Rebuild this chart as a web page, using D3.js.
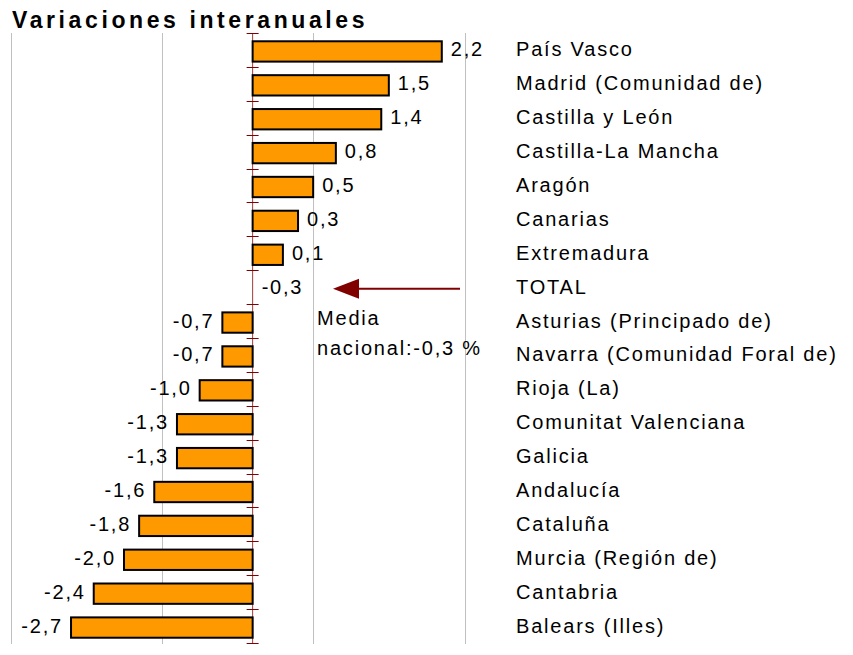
<!DOCTYPE html>
<html>
<head>
<meta charset="utf-8">
<script src="https://cdn.jsdelivr.net/npm/d3@7"></script>
<style>
  body { margin: 0; background: #fff; }
  svg text { font-family: Arial, "Liberation Sans", Helvetica, sans-serif; fill: #000; }
</style>
</head>
<body>
<script>
var w = 853;
var h = 655;

// Datos //
var regiones = [
  "País Vasco", "Madrid (Comunidad de)", "Castilla y León", "Castilla-La Mancha",
  "Aragón", "Canarias", "Extremadura", "TOTAL", "Asturias (Principado de)",
  "Navarra (Comunidad Foral de)", "Rioja (La)", "Comunitat Valenciana", "Galicia",
  "Andalucía", "Cataluña", "Murcia (Región de)", "Cantabria", "Balears (Illes)"
];
var variaciones = [2.2, 1.5, 1.4, 0.8, 0.5, 0.3, 0.1, -0.3, -0.7, -0.7, -1.0, -1.3, -1.3, -1.6, -1.8, -2.0, -2.4, -2.7];
var media = -0.3;
var rejilla = [-3.5, -1.5, 0.5, 2.5];

var dataset = regiones.map(function(r, i) { return { region: r, valor: variaciones[i] }; });

var fmt = d3.formatLocale({ decimal: ",", thousands: ".", grouping: [3], currency: ["", "€"], minus: "-" }).format(".1f");

// Escalas //
var xScale = d3.scaleLinear()
    .domain([-3.5, 2.5])
    .range([10.5, 464.5]);

var yScale = d3.scaleBand()
    .domain(regiones)
    .range([33.5, 643.5])
    .paddingInner(0.4)
    .paddingOuter(0.2);

var paso = yScale.step();

var svg = d3.select("body")
    .append("svg")
    .attr("width", w)
    .attr("height", h);

// Título
svg.append("text")
    .attr("x", 12)
    .attr("y", 28)
    .style("font-size", "23px")
    .style("font-weight", "bold")
    .style("letter-spacing", "3.6px")
    .text("Variaciones interanuales");

// Rejilla vertical
svg.selectAll("line.rejilla")
    .data(rejilla)
    .enter()
    .append("line")
    .attr("class", "rejilla")
    .attr("x1", function(d) { return Math.round(xScale(d)) + 0.5; })
    .attr("x2", function(d) { return Math.round(xScale(d)) + 0.5; })
    .attr("y1", 33)
    .attr("y2", 644)
    .attr("stroke", "#c0c0c0")
    .attr("stroke-width", 1);

// Eje vertical en la media
var x0 = xScale(media);
svg.append("line")
    .attr("x1", x0).attr("x2", x0)
    .attr("y1", 33).attr("y2", 644)
    .attr("stroke", "#a03c3c")
    .attr("stroke-width", 1);

var marcas = regiones.map(function(r) { return yScale(r) - paso * 0.2 - 0.5; });
marcas.push(marcas[marcas.length - 1] + paso);
svg.selectAll("line.marca")
    .data(marcas)
    .enter()
    .append("line")
    .attr("class", "marca")
    .attr("x1", x0 - 6).attr("x2", x0 + 6)
    .attr("y1", function(d) { return Math.round(d) + 0.5; })
    .attr("y2", function(d) { return Math.round(d) + 0.5; })
    .attr("stroke", "#800000")
    .attr("stroke-width", 1);

// Barras
svg.selectAll("rect")
    .data(dataset.filter(function(d) { return d.valor !== media; }))
    .enter()
    .append("rect")
    .attr("x", function(d) { return xScale(Math.min(d.valor, media)); })
    .attr("y", function(d) { return yScale(d.region) + 1; })
    .attr("width", function(d) { return Math.abs(xScale(d.valor) - xScale(media)); })
    .attr("height", yScale.bandwidth())
    .attr("fill", "#ff9900")
    .attr("stroke", "#000")
    .attr("stroke-width", 2);

// Etiquetas de valor
svg.selectAll("text.valor")
    .data(dataset)
    .enter()
    .append("text")
    .attr("class", "valor")
    .attr("x", function(d) {
        return d.valor >= media ? xScale(d.valor) + 9 : xScale(d.valor) - 8;
    })
    .attr("y", function(d) { return yScale(d.region) + yScale.bandwidth() / 2 + 6; })
    .attr("text-anchor", function(d) { return d.valor >= media ? "start" : "end"; })
    .style("font-size", "20px")
    .style("letter-spacing", "1.8px")
    .text(function(d) { return fmt(d.valor); });

// Etiquetas de región
svg.selectAll("text.region")
    .data(dataset)
    .enter()
    .append("text")
    .attr("class", "region")
    .attr("x", 516)
    .attr("y", function(d) { return yScale(d.region) + yScale.bandwidth() / 2 + 6; })
    .style("font-size", "20px")
    .style("letter-spacing", "1.8px")
    .text(function(d) { return d.region; });

// Flecha hacia la media nacional
var yTotal = yScale("TOTAL") + yScale.bandwidth() / 2 + 1;
svg.append("line")
    .attr("x1", 460).attr("x2", 356)
    .attr("y1", yTotal).attr("y2", yTotal)
    .attr("stroke", "#800000")
    .attr("stroke-width", 2);
svg.append("path")
    .attr("d", "M333," + yTotal + "L359," + (yTotal - 10) + "L359," + (yTotal + 10) + "Z")
    .attr("fill", "#800000");

svg.append("text")
    .attr("x", 317)
    .attr("y", 325)
    .style("font-size", "20px")
    .style("letter-spacing", "1.8px")
    .text("Media");
svg.append("text")
    .attr("x", 317)
    .attr("y", 355)
    .style("font-size", "20px")
    .style("letter-spacing", "1.8px")
    .text("nacional:" + fmt(media) + " %");
</script>
</body>
</html>
